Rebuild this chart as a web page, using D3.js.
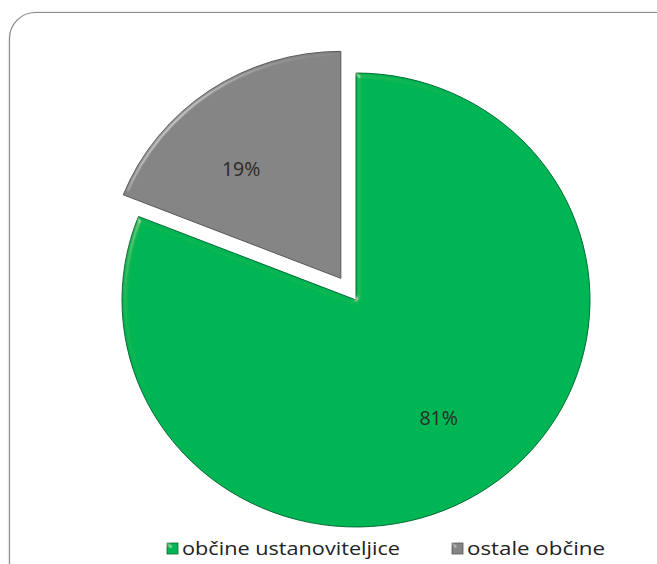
<!DOCTYPE html>
<html><head><meta charset="utf-8">
<script src="https://cdn.jsdelivr.net/npm/d3@7"></script>
<style>html,body{margin:0;padding:0;background:#fff;}svg{display:block;}</style>
</head><body>
<svg id="chart" width="657" height="564"></svg>
<script>
const categories = ["občine ustanoviteljice", "ostale občine"];
const values = [81, 19];
const labels = ["81%", "19%"];
const colors = ["#06b553", "#858585"];
const strokes = ["#056b32", "#555555"];
const explode = [0, 27];

const svg = d3.select("#chart");
const defs = svg.append("defs");

const sh = defs.append("filter").attr("id","shadow").attr("x","-5%").attr("y","-5%").attr("width","110%").attr("height","110%");
sh.append("feGaussianBlur").attr("in","SourceAlpha").attr("stdDeviation",1.5).attr("result","b");
sh.append("feOffset").attr("in","b").attr("dx",1).attr("dy",1).attr("result","o");
sh.append("feComponentTransfer").attr("in","o").attr("result","o2").append("feFuncA").attr("type","linear").attr("slope",0.35);
const m = sh.append("feMerge"); m.append("feMergeNode").attr("in","o2"); m.append("feMergeNode").attr("in","SourceGraphic");

const bev = defs.append("filter").attr("id","bevel").attr("x","-5%").attr("y","-5%").attr("width","110%").attr("height","110%");
bev.append("feGaussianBlur").attr("in","SourceAlpha").attr("stdDeviation",2.5).attr("result","blur");
bev.append("feSpecularLighting").attr("in","blur").attr("surfaceScale",4).attr("specularConstant",0.9)
  .attr("specularExponent",40).attr("lighting-color","#ffffff").attr("result","spec")
  .append("feDistantLight").attr("azimuth",225).attr("elevation",25);
bev.append("feComposite").attr("in","spec").attr("in2","SourceAlpha").attr("operator","in").attr("result","specIn");
bev.append("feComposite").attr("in","SourceGraphic").attr("in2","specIn").attr("operator","arithmetic")
  .attr("k1",0).attr("k2",1).attr("k3",0.35).attr("k4",0);

// chart frame
svg.append("rect").attr("x",9.5).attr("y",12.5).attr("width",690).attr("height",600).attr("rx",26).attr("ry",26)
  .attr("fill","#fff").attr("stroke","#8c8c8c").attr("stroke-width",1.2).attr("filter","url(#shadow)");

const cx = 356, cy = 300, r = 234, sy = 0.97;
const pie = d3.pie().sort(null).value(d => d)(values);
const arc = d3.arc().innerRadius(0).outerRadius(r);

const g = svg.append("g").attr("transform",`translate(${cx},${cy}) scale(1,${sy})`);
const slices = g.selectAll("g.slice").data(pie).join("g").attr("class","slice")
  .attr("transform",(d,i)=>{const a=(d.startAngle+d.endAngle)/2;return `translate(${Math.sin(a)*explode[i]},${-Math.cos(a)*explode[i]})`;});
slices.append("path").attr("d",arc).attr("fill",(d,i)=>colors[i]).attr("stroke",(d,i)=>strokes[i]).attr("stroke-width",1)
  .attr("stroke-linejoin","round").attr("filter","url(#bevel)");

const lr = [147, 150];
const lAng = [0, -0.13];
svg.selectAll("text.lbl").data(pie).join("text").attr("class","lbl")
  .attr("x",(d,i)=>{const a=(d.startAngle+d.endAngle)/2;return cx+Math.sin(a)*explode[i]+Math.sin(a+lAng[i])*lr[i];})
  .attr("y",(d,i)=>{const a=(d.startAngle+d.endAngle)/2;return cy-(Math.cos(a)*explode[i]+Math.cos(a+lAng[i])*lr[i])*sy;})
  .attr("text-anchor","middle").attr("dy","0.35em")
  .attr("font-family","'Open Sans', sans-serif").attr("font-size",19.5).attr("fill","#2a2a2a")
  .text((d,i)=>labels[i]);

// legend
const legX = [167, 452];
const leg = svg.selectAll("g.leg").data(categories).join("g").attr("class","leg")
  .attr("transform",(d,i)=>`translate(${legX[i]},543)`);
leg.append("rect").attr("width",11).attr("height",11).attr("fill",(d,i)=>colors[i]).attr("stroke",(d,i)=>strokes[i]).attr("stroke-width",0.8).attr("filter","url(#bevel)");
leg.append("text").attr("x",15).attr("y",12).attr("font-family","'Open Sans', sans-serif").attr("font-size",18.5).attr("fill","#222")
  .attr("textLength",(d,i)=>[218,138][i]).attr("lengthAdjust","spacingAndGlyphs").text(d=>d);
</script>
</body></html>
